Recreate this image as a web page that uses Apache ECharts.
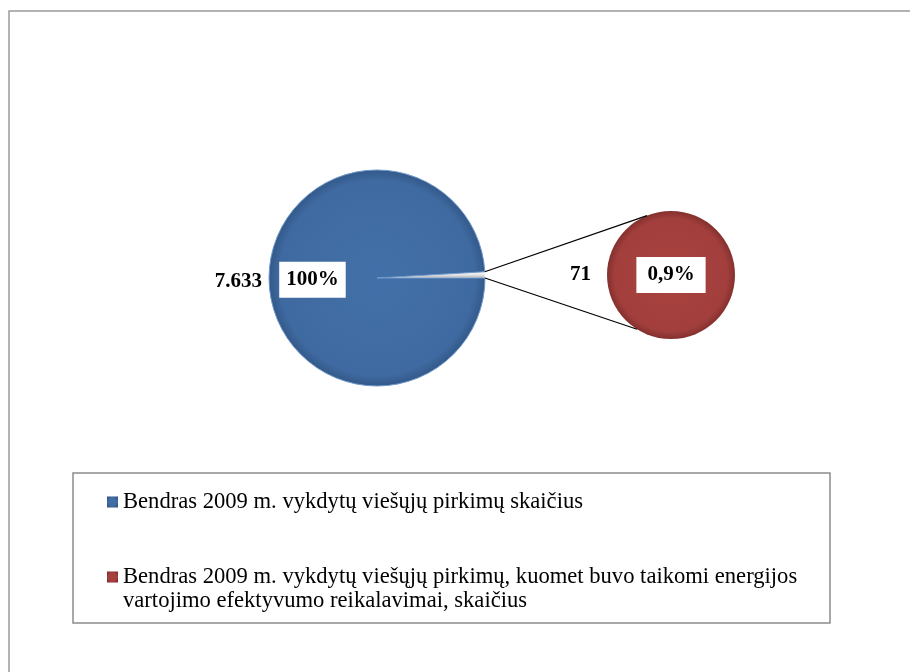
<!DOCTYPE html>
<html>
<head>
<meta charset="utf-8">
<script src="https://cdn.jsdelivr.net/npm/echarts@6/dist/echarts.min.js"></script>
<style>html,body{margin:0;padding:0;background:#fff}#c{width:910px;height:672px}</style>
</head>
<body>
<div id="c"></div>
<script>
const categories = [
  'Bendras 2009 m. vykdytų viešųjų pirkimų skaičius',
  'Bendras 2009 m. vykdytų viešųjų pirkimų, kuomet buvo taikomi energijos vartojimo efektyvumo reikalavimai, skaičius'
];
const legendLines = [
  ['Bendras 2009 m. vykdytų viešųjų pirkimų skaičius'],
  ['Bendras 2009 m. vykdytų viešųjų pirkimų, kuomet buvo taikomi energijos', 'vartojimo efektyvumo reikalavimai, skaičius']
];
const values = [7633, 71];
const valueLabels = ['7.633', '71'];
const percentLabels = ['100%', '0,9%'];
const otherName = 'Kita';

// layout
const C1 = [377, 278], R1 = 108;
const C2 = [671, 275], R2 = 64;
const FONT = '"Liberation Serif", "Times New Roman", serif';

const chart = echarts.init(document.getElementById('c'));
const total = values[0] + values[1];
const startA = values[1] / total * 360;

const blueFill = new echarts.graphic.RadialGradient(0.5, 0.5, 0.5, [
  {offset: 0, color: '#4370A8'}, {offset: 0.9, color: '#3F6AA1'}, {offset: 1, color: '#325888'}
]);
const redFill = new echarts.graphic.RadialGradient(0.5, 0.5, 0.5, [
  {offset: 0, color: '#A8423F'}, {offset: 0.88, color: '#A23F3C'}, {offset: 1, color: '#84302E'}
]);
const greyFill = new echarts.graphic.LinearGradient(0, 0, 0, 1, [
  {offset: 0, color: '#ffffff'}, {offset: 0.5, color: '#e6e6e6'}, {offset: 1, color: '#a8a8a8'}
]);

const boxLabel = (pad) => ({
  fontFamily: FONT, fontWeight: 'bold', fontSize: 21, color: '#000',
  backgroundColor: '#fff', padding: pad
});

// connector lines computed from pie geometry
const a0 = startA * Math.PI / 180;
const p1 = [C1[0] + R1 * Math.cos(a0), C1[1] - R1 * Math.sin(a0)];
const p2 = [C1[0] + R1, C1[1]];
const t1 = 112 * Math.PI / 180, t2 = 238 * Math.PI / 180;
const q1 = [C2[0] + R2 * Math.cos(t1), C2[1] - R2 * Math.sin(t1)];
const q2 = [C2[0] + R2 * Math.cos(t2), C2[1] - R2 * Math.sin(t2)];

chart.setOption({
  animation: false,
  legend: {
    orient: 'vertical', left: 107, top: 490, padding: 0,
    itemWidth: 11, itemHeight: 11, itemGap: 27, icon: 'rect', textGap: 5,
    data: categories,
    textStyle: {fontFamily: FONT, fontSize: 22.6, color: '#000', lineHeight: 24},
    formatter: function (n) {
      const lines = legendLines[categories.indexOf(n)];
      // leading empty line keeps the marker level with the first text line
      return lines.length > 1 ? '\n' + lines.join('\n') : lines[0];
    },
    itemStyle: {borderWidth: 0}
  },
  graphic: [
    {type: 'rect', shape: {x: 9, y: 11, width: 1000, height: 1000}, style: {fill: 'none', stroke: '#9a9a9a', lineWidth: 1.5}, z: -1},
    {type: 'rect', shape: {x: 73, y: 473, width: 757, height: 150}, style: {fill: 'none', stroke: '#8c8c8c', lineWidth: 1.5}, z: -1},
    {type: 'polyline', shape: {points: [q1, p1]}, style: {stroke: '#000', lineWidth: 1.2, fill: null}, z: 10},
    {type: 'polyline', shape: {points: [q2, p2]}, style: {stroke: '#000', lineWidth: 1.2, fill: null}, z: 10}
  ],
  series: [
    {
      type: 'pie', center: C1, radius: R1, startAngle: startA, clockwise: true,
      silent: true, avoidLabelOverlap: false,
      data: [
        {name: otherName, value: values[1], itemStyle: {color: greyFill, borderColor: '#f4f4f4', borderWidth: 1}},
        {name: categories[0], value: values[0], itemStyle: {color: blueFill, borderColor: '#6f97c9', borderWidth: 1}}
      ],
      label: {show: false}, labelLine: {show: false}
    },
    {
      // value label (outside) for the main pie
      type: 'pie', center: C1, radius: R1, startAngle: startA, clockwise: true,
      silent: true, avoidLabelOverlap: false, z: 5,
      itemStyle: {color: 'rgba(0,0,0,0)'},
      data: [
        {name: otherName + ' ', value: values[1], label: {show: false}},
        {name: categories[0] + ' ', value: values[0],
          label: {show: true, position: 'outside', formatter: valueLabels[0], fontFamily: FONT, fontWeight: 'bold', fontSize: 21, color: '#000', distanceToLabelLine: 7}}
      ],
      labelLine: {show: false, length: 0, length2: 0}
    },
    {
      // percent label (inside) for the main pie
      type: 'pie', center: C1, radius: R1 * 1.14, startAngle: startA, clockwise: true,
      silent: true, avoidLabelOverlap: false, z: 6,
      itemStyle: {color: 'rgba(0,0,0,0)'},
      data: [
        {name: otherName + '  ', value: values[1], label: {show: false}},
        {name: categories[0] + '  ', value: values[0],
          label: {show: true, position: 'inside', formatter: percentLabels[0], ...boxLabel([8, 7, 7, 7])}}
      ],
      labelLine: {show: false}
    },
    {
      type: 'pie', center: C2, radius: R2, startAngle: 0, clockwise: true,
      silent: true,
      data: [
        {name: categories[1], value: values[1], itemStyle: {color: redFill},
          label: {show: true, position: 'center', formatter: percentLabels[1], ...boxLabel([8, 11, 7, 11])}}
      ],
      labelLine: {show: false}
    },
    {
      type: 'pie', center: C2, radius: R2, startAngle: 0, clockwise: true,
      silent: true, z: 5,
      itemStyle: {color: 'rgba(0,0,0,0)'},
      data: [
        {name: categories[1] + ' ', value: values[1],
          label: {show: true, position: 'outside', formatter: valueLabels[1], fontFamily: FONT, fontWeight: 'bold', fontSize: 21, color: '#000', distanceToLabelLine: 16}}
      ],
      labelLine: {show: false, length: 0, length2: 0}
    }
  ]
});
</script>
</body>
</html>
